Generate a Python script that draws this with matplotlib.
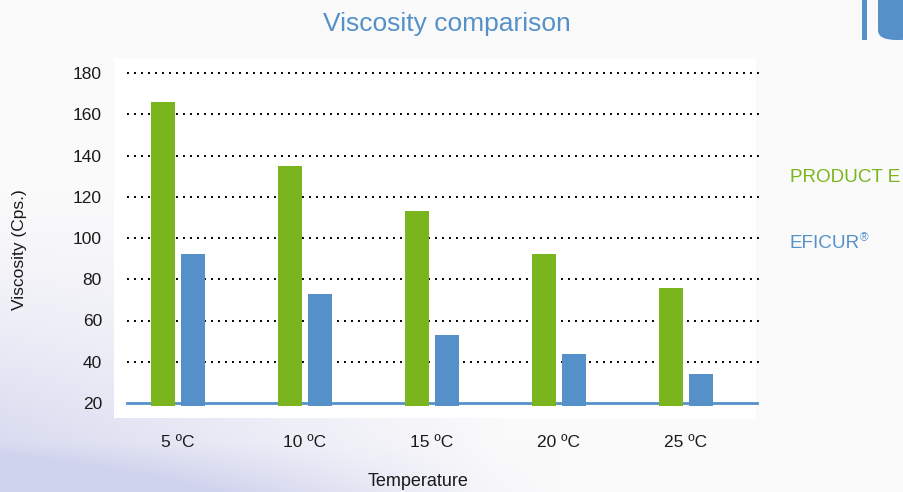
import numpy as np
import matplotlib
matplotlib.use("Agg")
import matplotlib.pyplot as plt
from matplotlib.patches import Rectangle, FancyBboxPatch

# data
temps = ["5 ºC", "10 ºC", "15 ºC", "20 ºC", "25 ºC"]
product_e = [166, 135, 113, 92, 76]
eficur = [92, 73, 53, 44, 34]
yticks = [20, 40, 60, 80, 100, 120, 140, 160, 180]

green = "#7ab51d"
blue = "#5591c8"
plt.rcParams['font.family'] = ['Liberation Sans', 'DejaVu Sans']

fig = plt.figure(figsize=(9.04, 4.92), dpi=100)

# faint background wash, lower left
bg = fig.add_axes([0, 0, 1, 1], zorder=-10)
h, w = 492, 904
yy, xx = np.mgrid[0:h, 0:w]
yf = yy / h
xf = xx / w
wt = np.clip((yf - 0.40) / 0.6, 0, 1) ** 1.3 * np.clip(1 - xf / 0.55, 0, 1)
wt = wt + 0.7 * np.clip((yf - 0.90) / 0.10, 0, 1) * np.clip(1 - xf / 0.62, 0, 1)
wt = np.clip(wt, 0, 1) * 0.6
base = np.array([250, 250, 251]) / 255
tint = np.array([180, 185, 228]) / 255
img = base[None, None, :] * (1 - wt[..., None]) + tint[None, None, :] * wt[..., None]
bg.imshow(img, aspect="auto", extent=[0, 1, 0, 1], origin="upper")
bg.axis("off")

# white panel behind the plot
fig.patches.append(Rectangle((114 / w, 1 - 418 / h), (756 - 114) / w, (418 - 58) / h,
                             transform=fig.transFigure, facecolor="white",
                             edgecolor="none", zorder=-5))

# top right decoration
fig.patches.append(Rectangle((862 / w, 1 - 40 / h), 5 / w, 40 / h,
                             transform=fig.transFigure, facecolor=blue,
                             edgecolor="none"))
fig.patches.append(FancyBboxPatch((878 / w, 1 - 40 / h), 40 / w, 50 / h,
                                  boxstyle="round,pad=0,rounding_size=0.02",
                                  transform=fig.transFigure, facecolor=blue,
                                  edgecolor="none"))

ax = fig.add_axes([127 / w, 1 - 403 / h, (757 - 127) / w, (403 - 73) / h])
ax.patch.set_alpha(0)

x = np.arange(len(temps))
bw = 0.19
off = 0.118
ax.bar(x - off, np.array(product_e) - 18.6, bw, bottom=18.6, color=green, zorder=3, clip_on=False)
ax.bar(x + off, np.array(eficur) - 18.6, bw, bottom=18.6, color=blue, zorder=3, clip_on=False)

ax.set_xlim(-0.40, 4.56)
ax.set_ylim(20, 180)
ax.set_yticks(yticks)
ax.set_xticks(x)
ax.set_xticklabels(temps)

for yv in yticks[1:]:
    ax.plot([-0.40, 4.58], [yv, yv], color="black", linestyle=(0, (1, 2.6)),
            linewidth=1.4, zorder=1, clip_on=False)
ax.axhline(20, color=blue, linewidth=2.0, zorder=2, clip_on=False)

for s in ax.spines.values():
    s.set_visible(False)
ax.tick_params(axis="both", length=0, labelsize=12.5, colors="#1a1a1a")
ax.tick_params(axis="x", pad=23)
ax.tick_params(axis="y", pad=18)

fig.text(20 / w, 1 - 250 / h, "Viscosity (Cps.)", rotation=90, ha="center",
         va="center", fontsize=12.5, color="#1a1a1a")
fig.text(418 / w, 1 - 481 / h, "Temperature", ha="center", va="center",
         fontsize=13, color="#1a1a1a")
fig.text(447 / w, 1 - 24 / h, "Viscosity comparison", ha="center", va="center",
         fontsize=19, color=blue)

fig.text(790 / w, 1 - 178 / h, "PRODUCT E", ha="left", va="center",
         fontsize=13.6, color=green)
fig.text(790 / w, 1 - 244 / h, "EFICUR", ha="left", va="center",
         fontsize=13.6, color=blue)
fig.text(860 / w, 1 - 238 / h, "®", ha="left", va="center",
         fontsize=8.5, color=blue)

fig.savefig("out.png", dpi=100)
